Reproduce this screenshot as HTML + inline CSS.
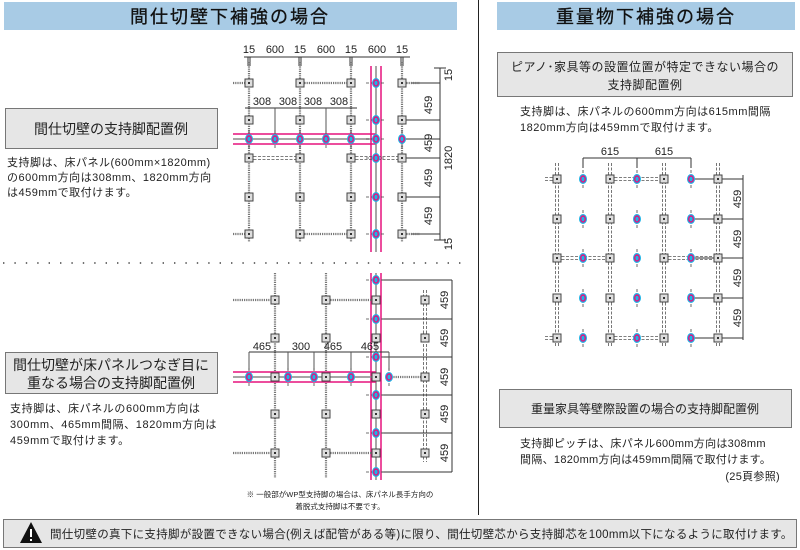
<!DOCTYPE html>
<html><head><meta charset="utf-8"><style>
html,body{margin:0;padding:0;background:#fff;}
svg{display:block;font-family:"Liberation Sans","Noto Sans CJK JP",sans-serif;}
</style></head><body>
<svg id="s" width="800" height="550" viewBox="0 0 800 550" xmlns="http://www.w3.org/2000/svg">
<rect x="4" y="2" width="453" height="28" fill="#a8cbe5"/>
<rect x="497" y="2" width="298" height="28" fill="#a8cbe5"/>
<text x="230" y="23" font-size="18" text-anchor="middle" fill="#111" letter-spacing="2" stroke="#111" stroke-width="0.3">間仕切壁下補強の場合</text>
<text x="646" y="23" font-size="18" text-anchor="middle" fill="#111" letter-spacing="2" stroke="#111" stroke-width="0.3">重量物下補強の場合</text>
<line x1="478.5" y1="0" x2="478.5" y2="515" stroke="#222" stroke-width="1"/>
<line x1="3" y1="263" x2="470" y2="263" stroke="#444" stroke-width="1.4" stroke-dasharray="1.4 10"/>

<rect x="5.5" y="108.5" width="212" height="40" fill="#e6e6e6" stroke="#777"/>
<text x="111" y="134" font-size="14" text-anchor="middle" fill="#222">間仕切壁の支持脚配置例</text>
<g font-size="11" fill="#222" letter-spacing="0.5">
<text x="7" y="166">支持脚は、床パネル(600mm×1820mm)</text>
<text x="7" y="181">の600mm方向は308mm、1820mm方向</text>
<text x="7" y="196">は459mmで取付けます。</text>
</g>
<rect x="5.5" y="352.5" width="212" height="41" fill="#e6e6e6" stroke="#777"/>
<text x="111" y="370" font-size="14" text-anchor="middle" fill="#222">間仕切壁が床パネルつなぎ目に</text>
<text x="111" y="388" font-size="14" text-anchor="middle" fill="#222">重なる場合の支持脚配置例</text>
<g font-size="11" fill="#222" letter-spacing="0.6">
<text x="10" y="412">支持脚は、床パネルの600mm方向は</text>
<text x="10" y="428">300mm、465mm間隔、1820mm方向は</text>
<text x="10" y="444">459mmで取付けます。</text>
</g>
<text x="340" y="497" font-size="7.5" text-anchor="middle" fill="#222">※ 一般部がWP型支持脚の場合は、床パネル長手方向の</text>
<text x="340" y="509" font-size="7.5" text-anchor="middle" fill="#222">着脱式支持脚は不要です。</text>

<rect x="497.5" y="52.5" width="295" height="44" fill="#e6e6e6" stroke="#777"/>
<text x="645" y="71" font-size="12" text-anchor="middle" fill="#222" letter-spacing="0.5">ピアノ･家具等の設置位置が特定できない場合の</text>
<text x="645" y="89" font-size="12" text-anchor="middle" fill="#222" letter-spacing="0.5">支持脚配置例</text>
<g font-size="11" fill="#222" letter-spacing="0.5">
<text x="520" y="115">支持脚は、床パネルの600mm方向は615mm間隔</text>
<text x="520" y="131">1820mm方向は459mmで取付けます。</text>
</g>
<rect x="499.5" y="389.5" width="292" height="38" fill="#e6e6e6" stroke="#777"/>
<text x="645" y="413" font-size="12" text-anchor="middle" fill="#222">重量家具等壁際設置の場合の支持脚配置例</text>
<g font-size="11" fill="#222" letter-spacing="0.3">
<text x="520" y="447">支持脚ピッチは、床パネル600mm方向は308mm</text>
<text x="520" y="463">間隔、1820mm方向は459mm間隔で取付けます。</text>
<text x="780" y="480" text-anchor="end">(25頁参照)</text>
</g>

<rect x="3.5" y="519.5" width="793" height="28" fill="#e6e6e6" stroke="#777"/>
<polygon points="31,522 42,543 20,543" fill="#111"/>
<rect x="30" y="529" width="2" height="8" fill="#fff"/><rect x="30" y="539" width="2" height="2" fill="#fff"/>
<text x="50" y="538" font-size="11.5" fill="#222" letter-spacing="0.3">間仕切壁の真下に支持脚が設置できない場合(例えば配管がある等)に限り、間仕切壁芯から支持脚芯を100mm以下になるように取付けます。</text>

<g id="g"></g>
<g font-size="11" fill="#222" text-anchor="middle">
<text x="249" y="53">15</text><text x="275" y="53">600</text><text x="300" y="53">15</text><text x="326" y="53">600</text><text x="351" y="53">15</text><text x="377" y="53">600</text><text x="402" y="53">15</text>
<text x="262" y="105">308</text><text x="288" y="105">308</text><text x="313" y="105">308</text><text x="339" y="105">308</text>
<text x="262" y="350">465</text><text x="301" y="350">300</text><text x="333" y="350">465</text><text x="370" y="350">465</text>
<text x="610" y="155">615</text><text x="664" y="155">615</text>
<text transform="translate(432,105) rotate(-90)">459</text>
<text transform="translate(432,143) rotate(-90)">459</text>
<text transform="translate(432,178) rotate(-90)">459</text>
<text transform="translate(432,216) rotate(-90)">459</text>
<text transform="translate(452,158) rotate(-90)">1820</text>
<text transform="translate(452,75) rotate(-90)">15</text>
<text transform="translate(452,244) rotate(-90)">15</text>
<text transform="translate(448,300) rotate(-90)">459</text>
<text transform="translate(448,338) rotate(-90)">459</text>
<text transform="translate(448,377) rotate(-90)">459</text>
<text transform="translate(448,414) rotate(-90)">459</text>
<text transform="translate(448,453) rotate(-90)">459</text>
<text transform="translate(741,199) rotate(-90)">459</text>
<text transform="translate(741,239) rotate(-90)">459</text>
<text transform="translate(741,278) rotate(-90)">459</text>
<text transform="translate(741,318) rotate(-90)">459</text>
</g>
</svg>
<script>
var g=document.getElementById('g'),h='';
function L(x1,y1,x2,y2,c,w,d){h+='<line x1="'+x1+'" y1="'+y1+'" x2="'+x2+'" y2="'+y2+'" stroke="'+(c||'#333')+'" stroke-width="'+(w||1)+'"'+(d?' stroke-dasharray="'+d+'"':'')+'/>';}
function W(x1,y1,x2,y2){L(x1,y1,x2,y2,'#777',2.2,'1.2 1');}
function D2(x1,y1,x2,y2){if(x1==x2){L(x1-1.5,y1,x2-1.5,y2,'#555',0.8,'3 1.5');L(x1+1.5,y1,x2+1.5,y2,'#555',0.8,'3 1.5');}else{L(x1,y1-1.5,x2,y2-1.5,'#555',0.8,'3 1.5');L(x1,y1+1.5,x2,y2+1.5,'#555',0.8,'3 1.5');}}
function S(x,y){h+='<rect x="'+(x-4)+'" y="'+(y-4)+'" width="8" height="8" fill="#ddd" stroke="#444" stroke-width="1"/><rect x="'+(x-1)+'" y="'+(y-1)+'" width="2" height="2" fill="#333"/>';}
function B(x,y,v){if(v!==false){L(x,y-9,x,y+9,'#444',0.8,'3 2');}h+='<ellipse cx="'+x+'" cy="'+y+'" rx="4" ry="5" fill="#1eb4e6"/><ellipse cx="'+x+'" cy="'+y+'" rx="2.3" ry="3" fill="none" stroke="#e5127d" stroke-width="1.4"/>';}
function PH(x1,x2,y){L(x1,y-5,x2,y-5,'#e5127d',1.5);L(x1,y+5,x2,y+5,'#e5127d',1.5);L(x1,y,x2,y,'#888',1.5);}
function PV(x,y1,y2){L(x-5,y1,x-5,y2,'#e5127d',1.5);L(x+5,y1,x+5,y2,'#e5127d',1.5);L(x,y1,x,y2,'#888',1.5);}
var c1=[249,300,351,402],r1=[83,120,158,197,234];
L(244,57,410,57,'#333',1);[249,300,351,402].forEach(function(x){L(x-1,57,x-1,66,'#333',1);L(x+1,57,x+1,66,'#333',1)});
L(440,68,440,240,'#333',1);L(434,68,446,68);L(434,240,446,240);
[120,139,158,197].forEach(function(y){L(402,y,440,y,'#333',1)});
L(412,83,440,83,'#333',1);L(412,234,440,234,'#333',1);
c1.forEach(function(x){W(x,62,x,242)});
PH(233,376,139);PV(376,66,252);
W(233,83,249,83);W(300,83,351,83);D2(249,158,300,158);D2(351,158,402,158);W(233,234,249,234);W(300,234,351,234);W(402,234,420,234);W(402,83,420,83);
L(245,108,357,108,'#333',1);[275,326].forEach(function(x){L(x,108,x,136,'#555',1)});
c1.forEach(function(x){r1.forEach(function(y){S(x,y)})});
[249,275,300,326,351,402].forEach(function(x){B(x,139)});
[83,120,139,158,197,234].forEach(function(y){L(366,y,386,y,'#444',0.8,'3 2');B(376,y,false)});
var c2=[275,326,376],r2=[300,338,377,414,453];
[275,326].forEach(function(x){W(x,273,x,478)});
D2(425,290,425,462);
PV(376,273,480);PH(233,376,377);
W(233,300,275,300);W(326,300,376,300);W(389,377,425,377);W(233,453,275,453);W(326,453,376,453);
L(452,280,452,472,'#333',1);
[280,319,357,395,433,472].forEach(function(y){L(382,y,452,y,'#333',1)});
L(249,352,389,352,'#333',1);[249,288,314,351,389].forEach(function(x){L(x,352,x,370,'#555',1)});
c2.forEach(function(x){r2.forEach(function(y){S(x,y)})});r2.forEach(function(y){S(425,y)});
[249,288,314,351,389].forEach(function(x){B(x,377)});
[280,319,357,395,433,472].forEach(function(y){L(366,y,386,y,'#444',0.8,'3 2');B(376,y,false)});
var c3=[557,610,664,718],r3=[179,219,258,298,338],b3=[583,637,691];
c3.forEach(function(x){D2(x,163,x,346)});
L(583,158,691,158,'#333',1);b3.forEach(function(x){L(x,158,x,168,'#333',1)});
L(743,175,743,340,'#333',1);
r3.forEach(function(y){L(691,y,743,y,'#333',1)});
D2(545,179,557,179);D2(610,179,664,179);D2(545,338,557,338);D2(610,338,664,338);D2(557,258,610,258);D2(664,258,718,258);
c3.forEach(function(x){r3.forEach(function(y){S(x,y)})});
b3.forEach(function(x){r3.forEach(function(y){B(x,y)})});
g.innerHTML=h;
</script>
</body></html>
